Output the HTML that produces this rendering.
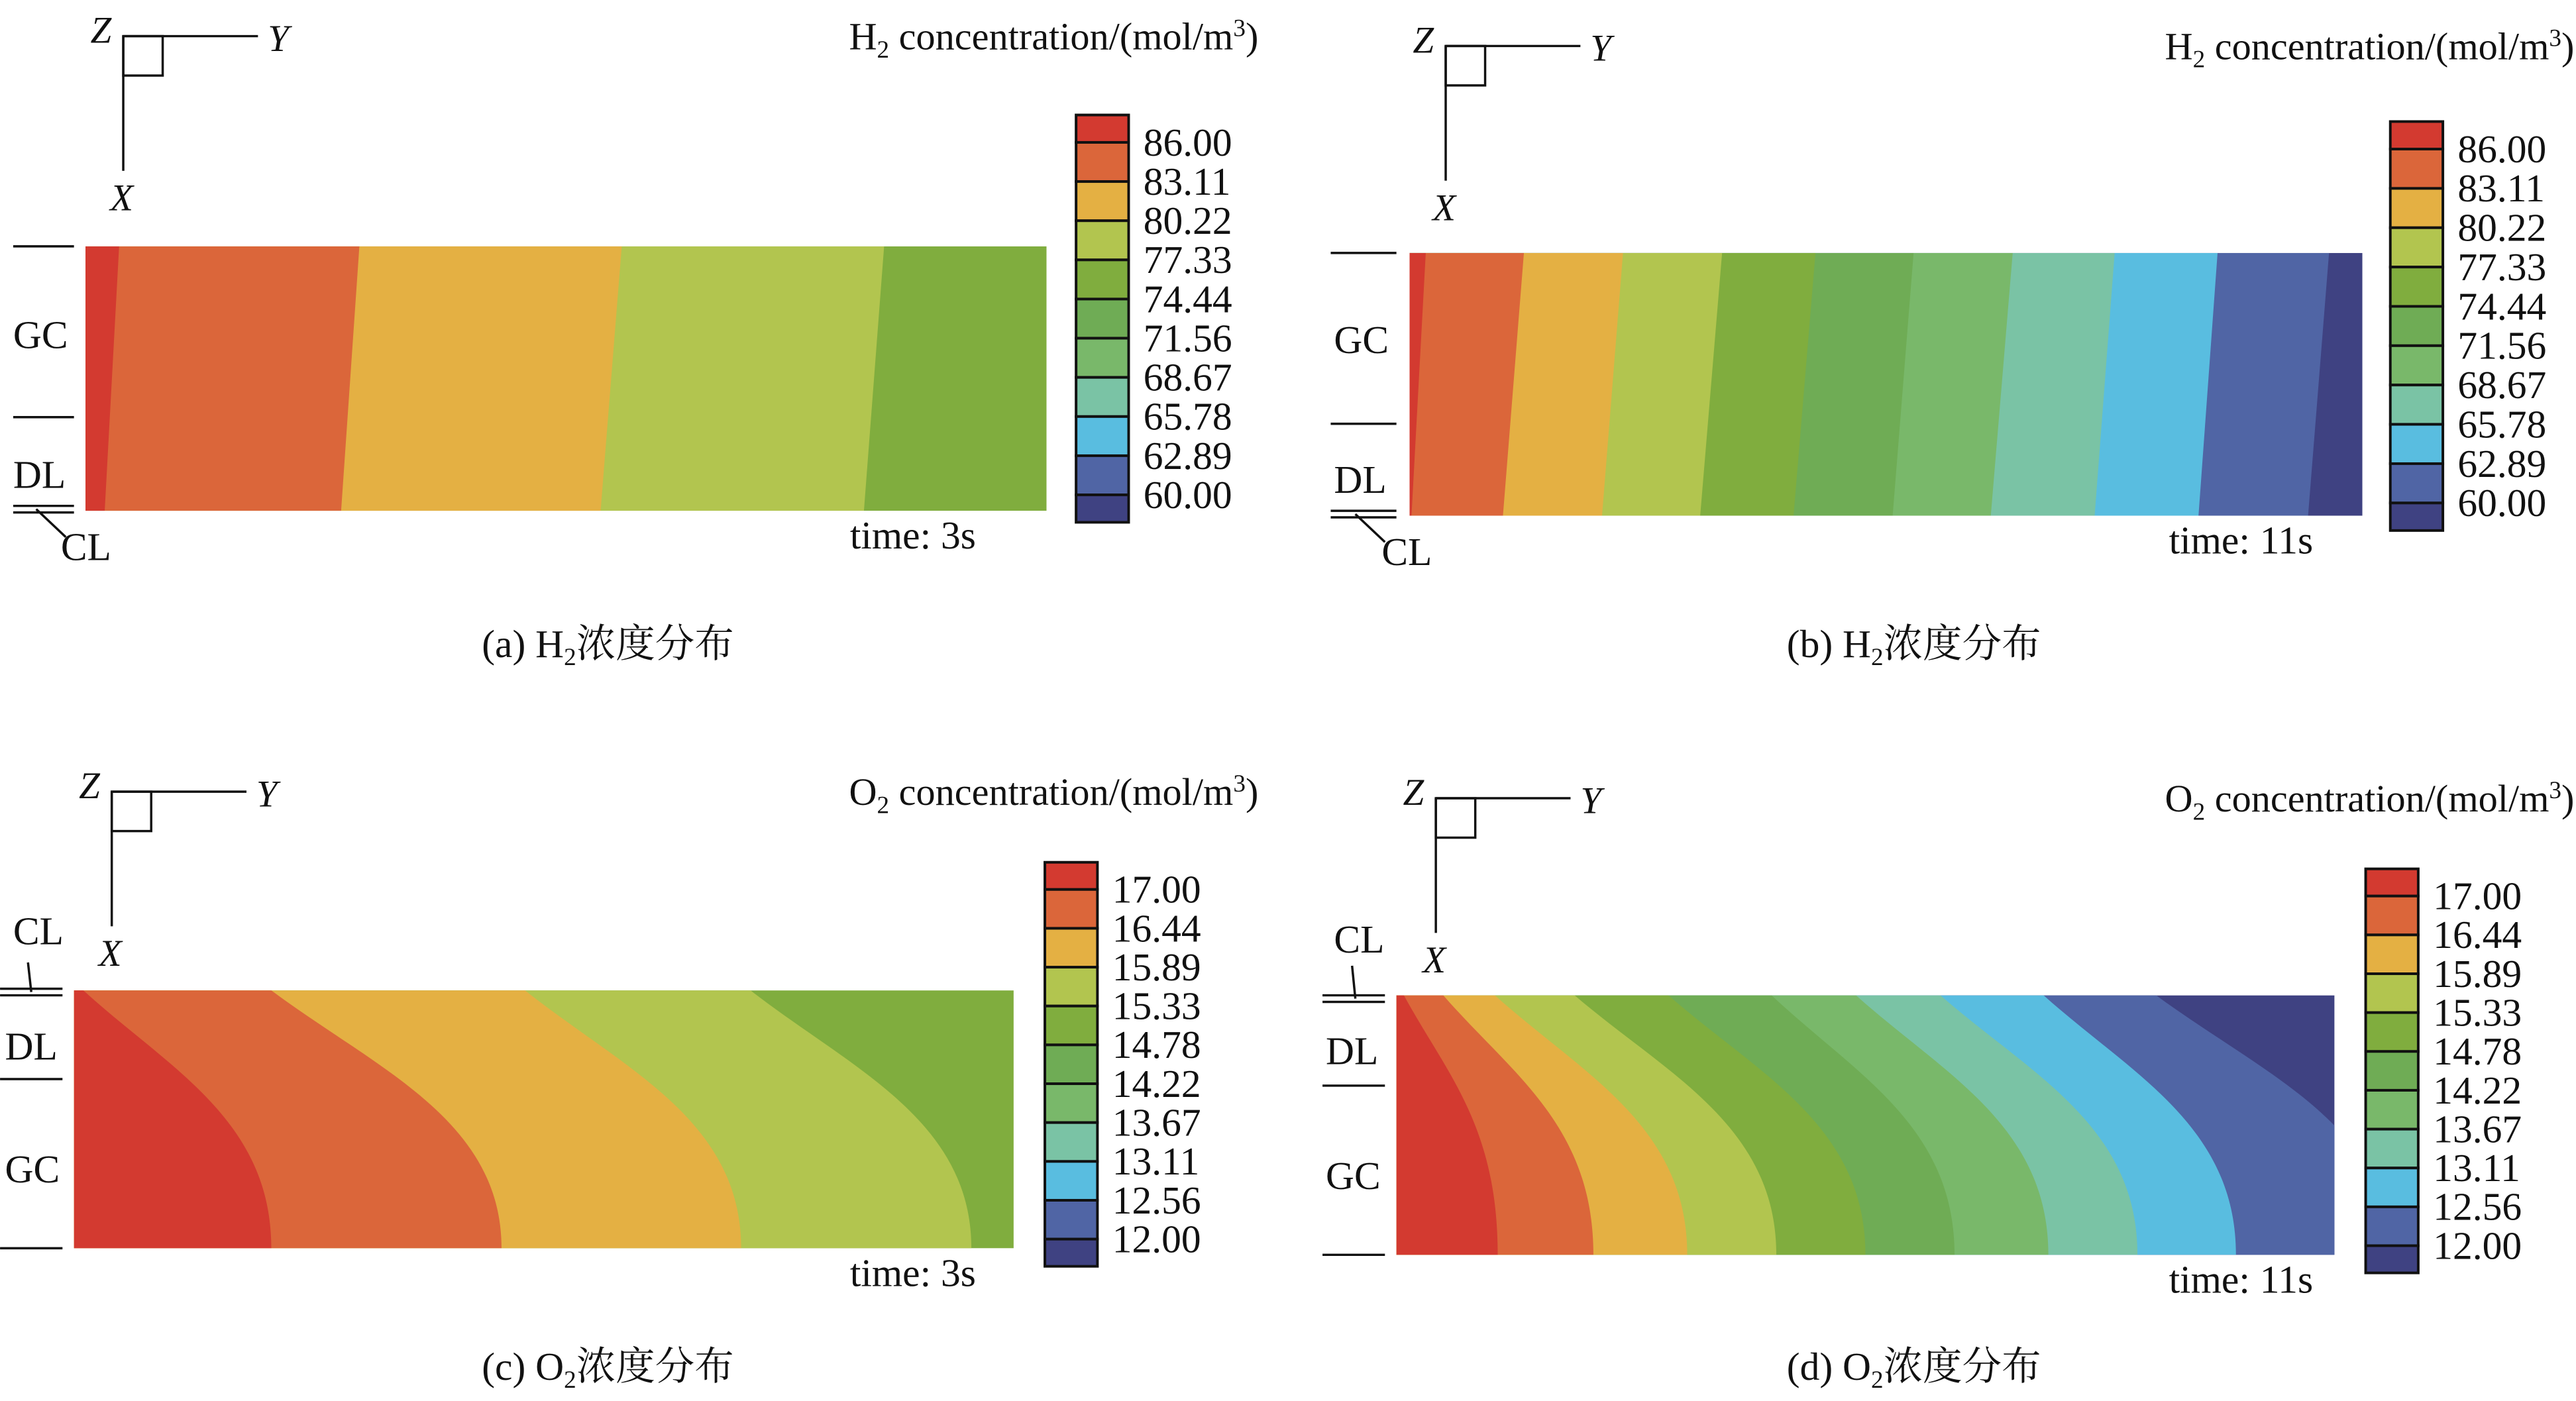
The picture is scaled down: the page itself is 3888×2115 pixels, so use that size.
<!DOCTYPE html>
<html><head><meta charset="utf-8"><style>
html,body{margin:0;padding:0;background:#fff;}
svg{display:block;}
text{font-family:"Liberation Serif","Noto Serif CJK SC",serif;fill:#111;}
</style></head><body>
<svg id="fig" width="3888" height="2115" viewBox="0 0 1568 853" xmlns="http://www.w3.org/2000/svg"></svg>
<script>
// ---- data ----
const h2Levels = ["86.00","83.11","80.22","77.33","74.44","71.56","68.67","65.78","62.89","60.00"];
const o2Levels = ["17.00","16.44","15.89","15.33","14.78","14.22","13.67","13.11","12.56","12.00"];
const levelColors = ["#d33a30","#db663a","#e4b043","#b2c54f","#80ad3e","#6fac55","#79b86a","#7ac3a5","#59bde0","#5065a5","#3f4282"];
// contour boundaries as fractions of domain width (top edge, bottom edge)
const aTop = [0.035,0.285,0.558,0.831];
const aBot = [0.02,0.266,0.536,0.81];
const bTop = [0.017,0.12,0.224,0.328,0.426,0.529,0.633,0.74,0.848,0.965];
const bBot = [0.002,0.098,0.202,0.305,0.403,0.507,0.61,0.719,0.828,0.943];
const cTop = [0.01,0.21,0.48,0.72];
const cBot = [0.21,0.455,0.71,0.955];
const dTop = [0.008,0.05,0.105,0.19,0.29,0.4,0.49,0.58,0.69,0.81];
const dBot = [0.108,0.21,0.31,0.405,0.5,0.595,0.695,0.79,0.895,1.06];

const svg=document.getElementById('fig');
const NS="http://www.w3.org/2000/svg";
function mk(tag,attrs,parent){const e=document.createElementNS(NS,tag);for(const k in attrs)e.setAttribute(k,attrs[k]);(parent||svg).appendChild(e);return e;}
function txt(x,y,s,size,anchor,parent){const t=mk('text',{x:x,y:y,'font-size':size||22,'text-anchor':anchor||'start'},parent);t.textContent=s;return t;}

function panel(id,rx,ry,rw,rh,tops,bots,curved,leg,levels,title,titleX,time,timeX,caption,capX,capY,layers,axis){
  const g=mk('g',{});
  
  
  const xs=f=>rx+f*rw;
  const defs=mk('defs',{},g);
  const cpth=mk('clipPath',{id:'cp'+id},defs);
  mk('rect',{x:rx,y:ry,width:rw,height:rh},cpth);
  const bg=mk('g',{'clip-path':'url(#cp'+id+')'},g);
  
  
  const n=tops.length;
  for(let i=n;i>=0;i--){
    const col=levelColors[i];
    let d;
    if(i===n){d=`M${rx} ${ry}H${rx+rw}V${ry+rh}H${rx}Z`;}
    else{
      const xt=xs(tops[i]),xb=xs(bots[i]);
      if(curved){
        d=`M${rx} ${ry}H${xt}C${xt+(xb-xt)*0.45} ${ry+rh*0.3} ${xb} ${ry+rh*0.5} ${xb} ${ry+rh}H${rx}Z`;
      }else{
        d=`M${rx} ${ry}H${xt}L${xb} ${ry+rh}H${rx}Z`;
      }
    }
    const p=mk('path',{d:d,fill:col},bg);
    
    
  }
  // legend
  const [lx,ly,lh]=leg;const lw=32;
  const bh=lh/10.4;
  const lg=mk('g',{},g);
  
  
  for(let i=0;i<11;i++){
    let y0,h;
    if(i===0){y0=ly;h=bh*0.7;} else if(i===10){y0=ly+bh*0.7+9*bh;h=bh*0.7;} else {y0=ly+bh*0.7+(i-1)*bh;h=bh;}
    const r=mk('rect',{x:lx,y:y0,width:lw,height:h,fill:levelColors[i],stroke:'#111','stroke-width':1.6},lg);
    
    
  }
  levels.forEach((v,i)=>{const t=txt(lx+41,ly+bh*0.7+i*bh+8,v,24,'start',lg);
    
    });
  // title
  const tt=mk('text',{x:titleX,y:axis[1]+8,'font-size':23.5,'text-anchor':'end'},g);
  
  
  tt.innerHTML=title+'<tspan font-size="15" dy="5">2</tspan><tspan dy="-5"> concentration/(mol/m</tspan><tspan font-size="15" dy="-8">3</tspan><tspan dy="8">)</tspan>';
  // time
  const tm=txt(timeX,ry+rh+23,time,24,'end',g);
  
  
  // caption
  const cp=mk('text',{x:capX,y:capY,'font-size':24,'text-anchor':'middle'},g);
  
  
  cp.innerHTML=caption[0]+'<tspan font-size="15" dy="5">2</tspan><tspan dy="-5">'+caption[1]+'</tspan>';
  // axis icon
  const [ax,ay]=axis;
  const ag=mk('g',{stroke:'#111','stroke-width':1.4,fill:'none'},g);
  
  
  mk('line',{x1:ax,y1:ay,x2:ax+82,y2:ay},ag);
  mk('line',{x1:ax,y1:ay,x2:ax,y2:ay+82},ag);
  mk('rect',{x:ax,y:ay,width:24,height:24},ag);
  const it=(x,y,s)=>{const t=mk('text',{x:x,y:y,'font-size':23,'font-style':'italic'},g);t.textContent=s;return t;};
  it(ax-20,ay+4,'Z');it(ax+88,ay+9,'Y');it(ax-8,ay+106,'X');
  // layer labels
  const lgp=mk('g',{stroke:'#111','stroke-width':1.4},g);
  
  
  layers.lines.forEach(y=>mk('line',{x1:layers.x0,y1:y,x2:layers.x1,y2:y},lgp));
  if(layers.cl) mk('line',{x1:layers.cl[0],y1:layers.cl[1],x2:layers.cl[2],y2:layers.cl[3]},lgp);
  layers.labels.forEach(([s,x,y])=>{const t=txt(x,y,s,24,'start',g);
    
    });
}

panel('a',52,150,585,161,aTop,aBot,false,[655,70,248],h2Levels,'H',766,'time: 3s',594,['(a) H','浓度分布'],370,400,
  {x0:8,x1:45,lines:[150,254,308,312],cl:[22,310,40,327],labels:[['GC',8,212],['DL',8,297],['CL',37,341]]},[75,22]);
panel('b',858,154,580,160,bTop,bBot,false,[1455,74,249],h2Levels,'H',1567,'time: 11s',1408,['(b) H','浓度分布'],1165,400,
  {x0:810,x1:850,lines:[154,258,311,315],cl:[825,313,843,330],labels:[['GC',812,215],['DL',812,300],['CL',841,344]]},[880,28]);
panel('c',45,603,572,157,cTop,cBot,true,[636,525,246],o2Levels,'O',766,'time: 3s',594,['(c) O','浓度分布'],370,840,
  {x0:0,x1:38,lines:[602,606,657,760],cl:[17,586,19,604],labels:[['CL',8,575],['DL',3,645],['GC',3,720]]},[68,482]);
panel('d',850,606,571,158,dTop,dBot,true,[1440,529,246],o2Levels,'O',1567,'time: 11s',1408,['(d) O','浓度分布'],1165,840,
  {x0:805,x1:843,lines:[606,610,661,764],cl:[823,588,825,608],labels:[['CL',812,580],['DL',807,648],['GC',807,724]]},[874,486]);
</script>
</body></html>
